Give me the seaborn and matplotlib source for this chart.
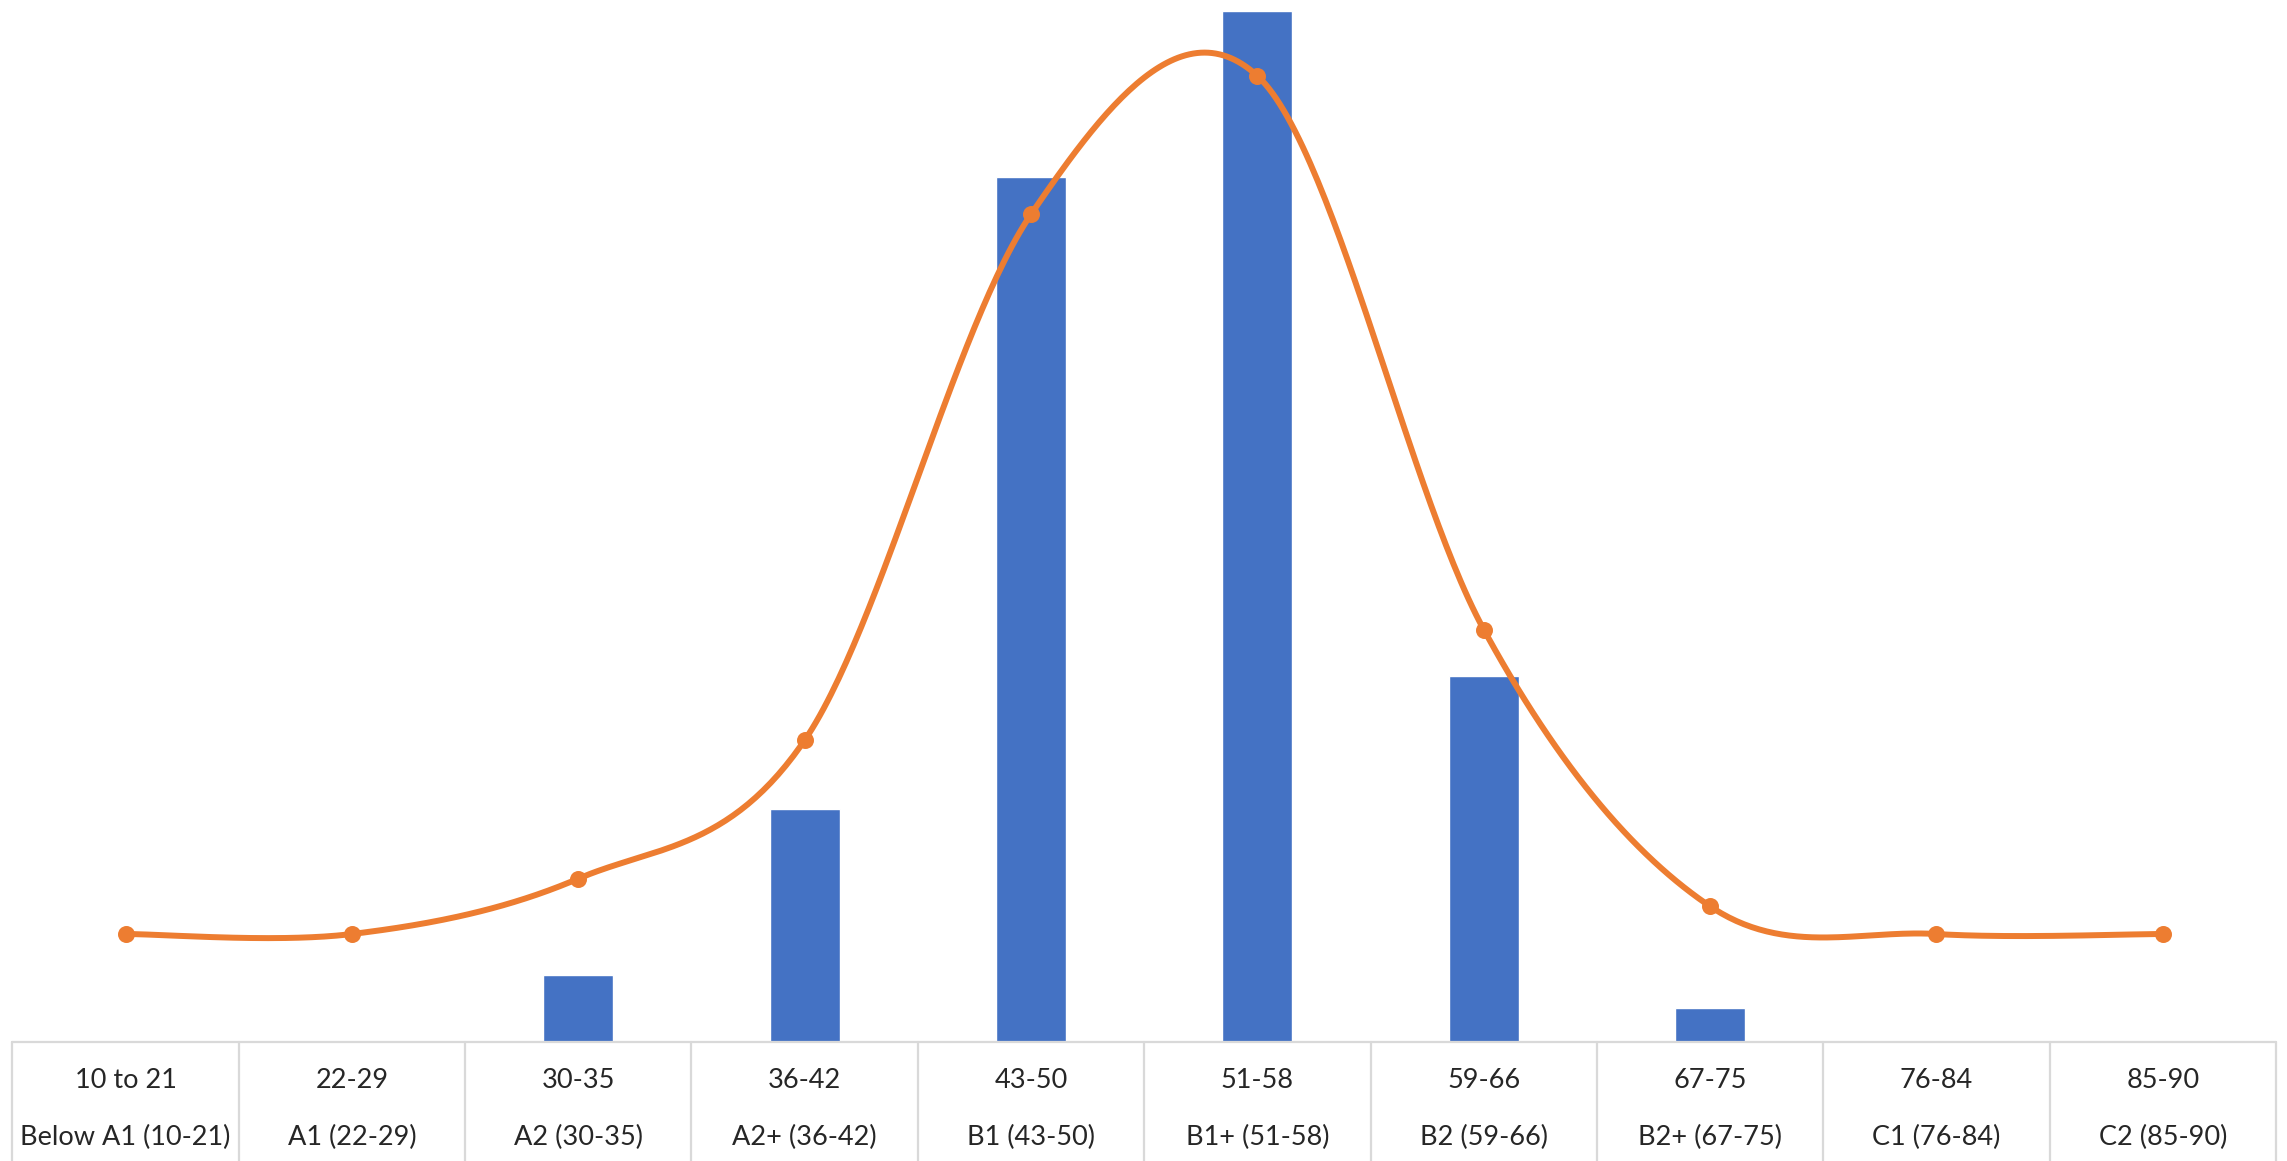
import numpy as np
import pandas as pd
import matplotlib
matplotlib.use("Agg")
import matplotlib.pyplot as plt
import seaborn as sns
from matplotlib.transforms import blended_transform_factory

# Score bands (top label row) and CEFR levels (bottom label row)
score_bands = ["10 to 21", "22-29", "30-35", "36-42", "43-50",
               "51-58", "59-66", "67-75", "76-84", "85-90"]
cefr_levels = ["Below A1 (10-21)", "A1 (22-29)", "A2 (30-35)", "A2+ (36-42)",
               "B1 (43-50)", "B1+ (51-58)", "B2 (59-66)", "B2+ (67-75)",
               "C1 (76-84)", "C2 (85-90)"]
# Number of students in each band
students = [0, 0, 2, 7, 26, 31, 11, 1, 0, 0]

BAR_COLOR = "#4472C4"
LINE_COLOR = "#ED7D31"
GRID_COLOR = "#D9D9D9"
TEXT_COLOR = "#262626"

sns.set_style("white")
plt.rcParams["font.family"] = ["Lato", "DejaVu Sans"]

W, H = 2287, 1161
fig = plt.figure(figsize=(W / 100, H / 100), dpi=100)
left_px, right_px, base_px = 12.4, 2276.0, 1041.7
ax_bottom = (H - base_px) / H
ax = fig.add_axes([left_px / W, ax_bottom, (right_px - left_px) / W, base_px / H])

df = pd.DataFrame({"band": score_bands, "students": students})
sns.barplot(data=df, x="band", y="students", order=score_bands,
            color=BAR_COLOR, saturation=1, width=0.31, ax=ax)
ax.set_xlim(-0.5, len(score_bands) - 0.5)
ax.set_ylim(0, 31.32)


def catmull_rom(xv, yv, steps=60):
    """Smoothed curve through the points (uniform Catmull-Rom spline)."""
    xv = np.asarray(xv, float)
    yv = np.asarray(yv, float)
    px = np.concatenate([[xv[0]], xv, [xv[-1]]])
    py = np.concatenate([[yv[0]], yv, [yv[-1]]])
    out_x, out_y = [], []
    n = len(xv)
    for i in range(n - 1):
        t = np.linspace(0, 1, steps, endpoint=(i == n - 2))
        for p, out in ((px, out_x), (py, out_y)):
            p0, p1, p2, p3 = p[i], p[i + 1], p[i + 2], p[i + 3]
            out.append(0.5 * (2 * p1 + (-p0 + p2) * t
                              + (2 * p0 - 5 * p1 + 4 * p2 - p3) * t ** 2
                              + (-p0 + 3 * p1 - 3 * p2 + p3) * t ** 3))
    return np.concatenate(out_x), np.concatenate(out_y)


# Distribution curve on a secondary axis
ax2 = ax.twinx()
positions = np.arange(len(score_bands))
cx, cy = catmull_rom(positions, students)
ax2.plot(cx, cy, color=LINE_COLOR, lw=4.3, solid_capstyle="round", zorder=3)
sns.scatterplot(x=positions, y=students, ax=ax2, color=LINE_COLOR, s=150,
                edgecolor=LINE_COLOR, linewidth=0, zorder=4)
ax2.set_ylim(-3.89, 33.74)
ax2.set_xlim(-0.5, len(score_bands) - 0.5)

for a in (ax, ax2):
    for s in a.spines.values():
        s.set_visible(False)
    a.set_xticks([])
    a.set_yticks([])
    a.set_xlabel("")
    a.set_ylabel("")

# Category table under the plot
trans = blended_transform_factory(ax.transData, fig.transFigure)
ax.plot([-0.5, len(score_bands) - 0.5], [ax_bottom, ax_bottom], transform=trans,
        color=GRID_COLOR, lw=1.6, clip_on=False, zorder=5)
for b in np.arange(-0.5, len(score_bands), 1.0):
    ax.plot([b, b], [ax_bottom, 0], transform=trans, color=GRID_COLOR,
            lw=1.6, clip_on=False, zorder=5)

row1_y = 1 - 1080 / H
row2_y = 1 - 1137 / H
for i, (band, level) in enumerate(zip(score_bands, cefr_levels)):
    ax.text(i, row1_y, band, transform=trans, ha="center", va="center",
            fontsize=19.5, color=TEXT_COLOR)
    ax.text(i, row2_y, level, transform=trans, ha="center", va="center",
            fontsize=19.5, color=TEXT_COLOR)

fig.savefig("out.png", dpi=100, facecolor="white")
